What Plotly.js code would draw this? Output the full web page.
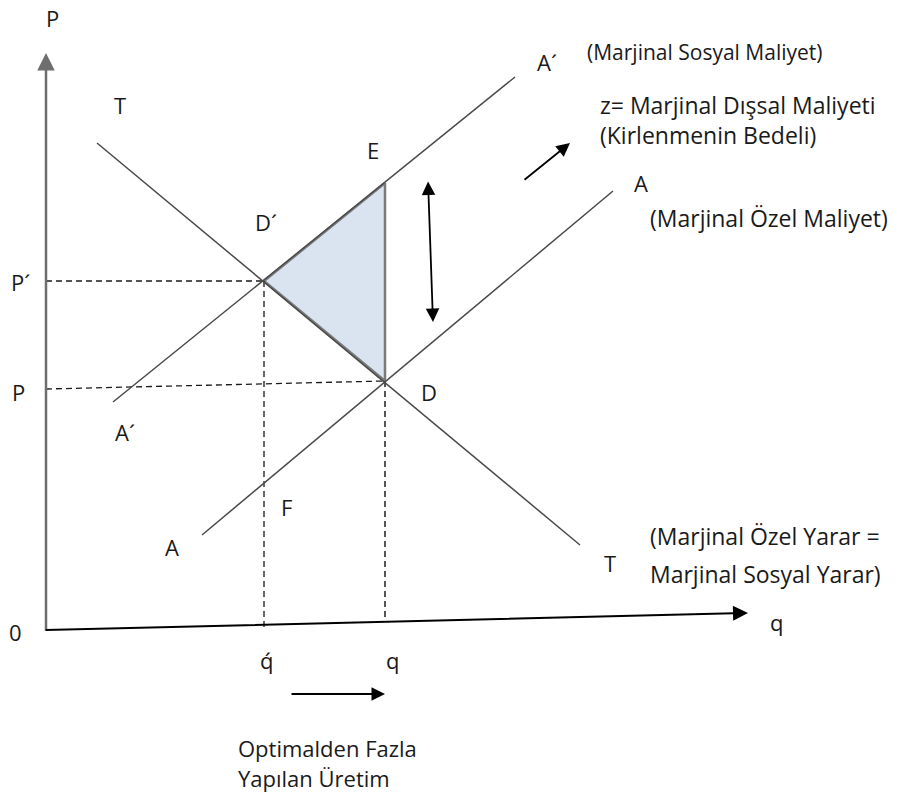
<!DOCTYPE html>
<html>
<head>
<meta charset="utf-8">
<script src="https://cdn.plot.ly/plotly-3.0.1.min.js"></script>
<style>
  html, body { margin: 0; padding: 0; background: #fff; }
  #chart { width: 898px; height: 797px; }
</style>
</head>
<body>
<div id="chart"></div>
<script>
// Diagram units: q to the right of the origin, p up from the q axis.

// T — marginal private benefit = marginal social benefit (demand)
const T_Q = [51, 534];
const T_P = [487, 85];

// A´ — marginal social cost
const MSC_Q = [67, 469];
const MSC_P = [228, 553];

// A — marginal private cost
const MPC_Q = [156, 567];
const MPC_P = [95, 439];

// key points
const D1 = { q: 218, p: 349 };   // D´ (social optimum)
const D  = { q: 339, p: 249 };   // D  (market equilibrium)
const E  = { q: 339, p: 447 };   // E  on A´ above D

// welfare-loss triangle D´ - E - D
const TRI_Q = [D1.q, E.q, D.q, D1.q];
const TRI_P = [D1.p, E.p, D.p, D1.p];

const FONT = 'Open Sans, DejaVu Sans, sans-serif';
const INK = '#1a1a1a';

function seg(q, p, color, width, dash) {
    return {
        x: q, y: p, type: 'scatter', mode: 'lines',
        line: { color, width, dash: dash || 'solid' },
        hoverinfo: 'skip', showlegend: false,
    };
}

const traces = [
    {
        x: TRI_Q, y: TRI_P, type: 'scatter', mode: 'lines',
        fill: 'toself', fillcolor: '#dae3f0',
        line: { color: '#7a7a7a', width: 2.5 },
        hoverinfo: 'skip', showlegend: false,
    },
    // dashed guides
    seg([0, D1.q], [D1.p, D1.p], INK, 1.3, '6px,4px'),
    seg([0, D.q], [241, D.p], INK, 1.3, '6px,4px'),
    seg([D1.q, D1.q], [D1.p, 3], INK, 1.3, '6px,4px'),
    seg([D.q, D.q], [D.p, 10], '#555', 2, '6px,4px'),
    // curves
    seg(T_Q, T_P, '#4a4a4a', 1.5),
    seg(MSC_Q, MSC_P, '#4a4a4a', 1.5),
    seg(MPC_Q, MPC_P, '#4a4a4a', 1.5),
];

function txt(x, y, text, anchor, size) {
    return {
        x, y, text, showarrow: false, xref: 'x', yref: 'y',
        xanchor: anchor || 'center', yanchor: 'middle',
        font: { family: FONT, size: size || 22, color: INK },
    };
}

function arrow(x0, y0, x1, y1, side, width, color, size) {
    return {
        x: x1, y: y1, ax: x0, ay: y0, xref: 'x', yref: 'y', axref: 'x', ayref: 'y',
        text: '', showarrow: true, arrowhead: 2, arrowsize: size || 1.5,
        arrowwidth: width || 1.8, arrowcolor: color || '#000',
        arrowside: side || 'end',
    };
}

const annotations = [
    // axes
    arrow(0, -2, 0, 577, 'end', 2.5, '#6e6e6e', 1.4),
    arrow(-2, 0, 702, 17, 'end', 2, '#000', 1.5),
    // movement arrows
    arrow(382, 450, 387, 308, 'end+start', 1.8),
    arrow(477, 449, 524, 487, 'end', 1.8),
    arrow(244, -64, 339, -64, 'end', 1.8),

    txt(6, 612, 'P'),
    txt(74, 525, 'T'),
    txt(501, 568, 'A´'),
    txt(539, 578, '(Marjinal Sosyal Maliyet)', 'left', 21),
    txt(552, 525, 'z= Marjinal Dışsal Maliyeti', 'left', 23),
    txt(552, 495, '(Kirlenmenin Bedeli)', 'left', 23),
    txt(595, 447, 'A'),
    txt(602, 412, '(Marjinal Özel Maliyet)', 'left', 23),
    txt(327, 480, 'E'),
    txt(220, 408, 'D´'),
    txt(-26, 348, 'P´'),
    txt(-28, 238, 'P'),
    txt(383, 238, 'D'),
    txt(79, 198, 'A´'),
    txt(240, 123, 'F'),
    txt(126, 83, 'A'),
    txt(564, 67, 'T'),
    txt(602, 94, '(Marjinal Özel Yarar =', 'left', 23),
    txt(602, 56, 'Marjinal Sosyal Yarar)', 'left', 23),
    txt(730, 8, 'q'),
    txt(-31, -2, '0'),
    txt(220, -30, 'q́'),
    txt(346, -30, 'q'),
    txt(190, -118, 'Optimalden Fazla', 'left', 22),
    txt(190, -148, 'Yapılan Üretim', 'left', 22),
];

const layout = {
    width: 898, height: 797,
    margin: { l: 0, r: 0, t: 0, b: 0 },
    paper_bgcolor: '#fff', plot_bgcolor: '#fff',
    showlegend: false,
    xaxis: { range: [-46, 852], visible: false, fixedrange: true },
    yaxis: { range: [-167, 630], visible: false, fixedrange: true },
    annotations,
};

Plotly.newPlot('chart', traces, layout, { staticPlot: true, displayModeBar: false });
</script>
</body>
</html>
